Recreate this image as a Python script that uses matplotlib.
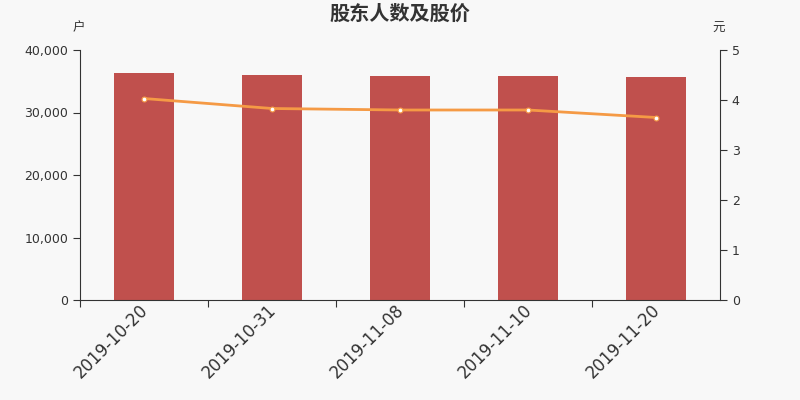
import matplotlib
matplotlib.use("Agg")
import matplotlib.pyplot as plt
from matplotlib.transforms import ScaledTranslation

plt.rcParams['font.family'] = ['DejaVu Sans', 'Noto Sans CJK SC']

dates = ["2019-10-20", "2019-10-31", "2019-11-08", "2019-11-10", "2019-11-20"]
holders = [36320, 36050, 35840, 35840, 35630]
price = [4.03, 3.83, 3.80, 3.80, 3.65]

bg = "#f8f8f8"
fig = plt.figure(figsize=(8, 4), dpi=100, facecolor=bg)
ax = fig.add_axes([0.1, 0.25, 0.8, 0.625])
ax.set_facecolor(bg)
x = list(range(len(dates)))
ax.bar(x, holders, width=0.47, color="#c0504d", zorder=2)
ax.set_xlim(-0.5, len(dates) - 0.5)
ax.set_ylim(0, 40000)
ax.set_yticks([0, 10000, 20000, 30000, 40000])
ax.set_yticklabels([f"{v:,}" for v in [0, 10000, 20000, 30000, 40000]], fontsize=9, color="#333333")
ax.set_xticks([i - 0.5 for i in range(len(dates))])
ax.set_xticklabels([])
ax.set_xticks(x, minor=True)
ax.set_xticklabels(dates, minor=True, rotation=45, ha="right", va="top",
                   rotation_mode="anchor", fontsize=12, color="#333333")
ax.tick_params(axis="x", which="minor", length=0, pad=1)
ax.tick_params(axis="x", which="major", length=5, color="#333333")
ax.tick_params(axis="y", length=5, color="#333333")
offset = ScaledTranslation(-5 / 100, 0, fig.dpi_scale_trans)
for lbl in ax.get_xticklabels(minor=True):
    lbl.set_transform(lbl.get_transform() + offset)
for s in ["top", "right"]:
    ax.spines[s].set_visible(False)
for s in ["left", "bottom"]:
    ax.spines[s].set_color("#333333")

ax2 = ax.twinx()
ax2.set_ylim(0, 5)
ax2.set_yticks([0, 1, 2, 3, 4, 5])
ax2.set_yticklabels(["0", "1", "2", "3", "4", "5"], fontsize=9, color="#333333")
ax2.tick_params(axis="y", length=5, color="#333333")
for s in ["top", "left", "bottom"]:
    ax2.spines[s].set_visible(False)
ax2.spines["right"].set_color("#333333")
ax2.plot(x, price, color="#f59a45", linewidth=2, marker="o", markersize=3.5,
         markerfacecolor="white", markeredgecolor="#f59a45", markeredgewidth=0.8, zorder=3)

fig.text(0.5, 0.967, "股东人数及股价", ha="center", va="center", fontsize=14.5,
         fontweight="bold", color="#333333", family=["Noto Sans CJK SC", "DejaVu Sans"])
fig.text(0.098, 0.93, "户", ha="center", va="center", fontsize=9, color="#333333",
         family=["Noto Sans CJK SC", "DejaVu Sans"])
fig.text(0.898, 0.93, "元", ha="center", va="center", fontsize=9, color="#333333",
         family=["Noto Sans CJK SC", "DejaVu Sans"])

fig.savefig("out.png", dpi=100, facecolor=bg)
